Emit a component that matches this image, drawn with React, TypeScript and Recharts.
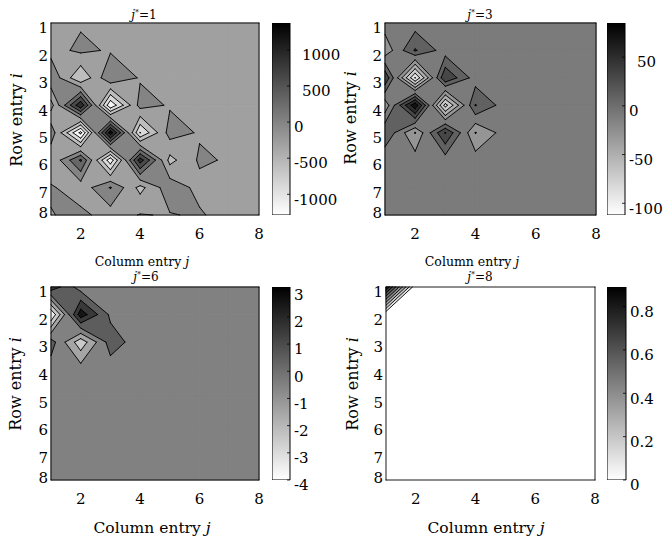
import React from 'react'
import { ScatterChart, Scatter, XAxis, YAxis, BarChart, Bar } from 'recharts'

// grid positions (column entry j along x, row entry i along y)
const xTicks = [2, 4, 6, 8]
const yTicks = [1, 2, 3, 4, 5, 6, 7, 8]

// j* = 1  (rows i = 1..8, columns j = 1..8)
const m1 = [
  [-30, -30, -30, -30, -30, -30, -30, -30],
  [-107, 60, -30, -30, -30, -30, -30, -30],
  [250, -590, 270, -30, -30, -30, -30, -30],
  [-420, 1150, -1150, 120, -30, -30, -30, -30],
  [200, -1287, 1372, -910, 130, -30, -30, -30],
  [-290, 640, -1100, 1050, -400, 45, -30, -30],
  [40, -190, 320, -400, 200, -100, -30, -30],
  [-15, 85, -150, 15, -20, 40, -150, -30],
]
const levels1 = [-1200, -900, -600, -300, 0, 300, 600, 900, 1200]
const range1 = [-1287, 1372]
const cbTicks1 = [-1000, -500, 0, 500, 1000]

// j* = 3
const m3 = [
  [0, 0, 0, 0, 0, 0, 0, 0],
  [-24, 32, 0, 0, 0, 0, 0, 0],
  [48, -91, 49, 0, 0, 0, 0, 0],
  [-24, 85, -78, 31, 0, 0, 0, 0],
  [29, -31, 51, -31, 0, 0, 0, 0],
  [-8, 0, 0, 0, 0, 0, 0, 0],
  [0, 0, 0, 0, 0, 0, 0, 0],
  [0, 0, 0, 0, 0, 0, 0, 0],
]
const levels3 = [-90, -70, -50, -30, -10, 10, 30, 50, 70]
const range3 = [-112, 85]
const cbTicks3 = [-100, -50, 0, 50]

// j* = 6
const m6 = [
  [2.2, 0, 0, 0, 0, 0, 0, 0],
  [-3.5, 3.1, 0.3, 0, 0, 0, 0, 0],
  [0.98, -2.17, 0.98, 0, 0, 0, 0, 0],
  [0, 0, 0, 0, 0, 0, 0, 0],
  [0, 0, 0, 0, 0, 0, 0, 0],
  [0, 0, 0, 0, 0, 0, 0, 0],
  [0, 0, 0, 0, 0, 0, 0, 0],
  [0, 0, 0, 0, 0, 0, 0, 0],
]
const levels6 = [-3.5, -2.5, -1.5, -0.5, 0.5, 1.5, 2.5]
const range6 = [-4, 3.1]
const cbTicks6 = [-4, -3, -2, -1, 0, 1, 2, 3]

// j* = 8
const m8 = [
  [0.89, 0, 0, 0, 0, 0, 0, 0],
  [0, 0, 0, 0, 0, 0, 0, 0],
  [0, 0, 0, 0, 0, 0, 0, 0],
  [0, 0, 0, 0, 0, 0, 0, 0],
  [0, 0, 0, 0, 0, 0, 0, 0],
  [0, 0, 0, 0, 0, 0, 0, 0],
  [0, 0, 0, 0, 0, 0, 0, 0],
  [0, 0, 0, 0, 0, 0, 0, 0],
]
const levels8 = [0, 0.1, 0.2, 0.3, 0.4, 0.5, 0.6, 0.7, 0.8]
const range8 = [0, 0.89]
const cbTicks8 = [0, 0.2, 0.4, 0.6, 0.8]

const FONT = 'DejaVu Serif'

type P = [number, number]
type C = { x: number; y: number; v: number }

const corners = (m: number[][], i: number, j: number): C[] => [
  { x: j + 1, y: i + 1, v: m[i][j] },
  { x: j + 2, y: i + 1, v: m[i][j + 1] },
  { x: j + 2, y: i + 2, v: m[i + 1][j + 1] },
  { x: j + 1, y: i + 2, v: m[i + 1][j] },
]

const cross = (a: C, b: C, L: number): P => {
  const t = (L - a.v) / (b.v - a.v)
  return [a.x + t * (b.x - a.x), a.y + t * (b.y - a.y)]
}

// saddle cells: bilinear value at the saddle point decides how corners join
const saddleValue = (c: C[]) => (c[0].v * c[2].v - c[1].v * c[3].v) / (c[0].v + c[2].v - c[1].v - c[3].v)

// region v >= L, cell by cell (marching squares)
function superPolys(m: number[][], L: number): P[][] {
  const out: P[][] = []
  for (let i = 0; i < 7; i++) {
    for (let j = 0; j < 7; j++) {
      const c = corners(m, i, j)
      const inn = c.map((p) => p.v >= L)
      const n = inn.filter(Boolean).length
      if (!n) continue
      if (n === 2 && inn[0] === inn[2] && saddleValue(c) < L) {
        for (let k = 0; k < 4; k++) {
          if (!inn[k]) continue
          out.push([cross(c[(k + 3) % 4], c[k], L), [c[k].x, c[k].y], cross(c[k], c[(k + 1) % 4], L)])
        }
        continue
      }
      const poly: P[] = []
      for (let k = 0; k < 4; k++) {
        const k2 = (k + 1) % 4
        if (inn[k]) poly.push([c[k].x, c[k].y])
        if (inn[k] !== inn[k2]) poly.push(cross(c[k], c[k2], L))
      }
      out.push(poly)
    }
  }
  return out
}

function isoSegs(m: number[][], L: number): [P, P][] {
  const out: [P, P][] = []
  for (let i = 0; i < 7; i++) {
    for (let j = 0; j < 7; j++) {
      const c = corners(m, i, j)
      const inn = c.map((p) => p.v >= L)
      const n = inn.filter(Boolean).length
      if (n === 0 || n === 4) continue
      if (n === 2 && inn[0] === inn[2]) {
        const cut = saddleValue(c) < L
        for (let k = 0; k < 4; k++) {
          if (inn[k] !== cut) continue
          out.push([cross(c[(k + 3) % 4], c[k], L), cross(c[k], c[(k + 1) % 4], L)])
        }
        continue
      }
      const pts: P[] = []
      for (let k = 0; k < 4; k++) {
        const k2 = (k + 1) % 4
        if (inn[k] !== inn[k2]) pts.push(cross(c[k], c[k2], L))
      }
      out.push([pts[0], pts[1]])
    }
  }
  return out
}

const shade = (v: number, lo: number, hi: number) => {
  const t = Math.min(1, Math.max(0, (v - lo) / (hi - lo)))
  const g = Math.round(255 * (1 - t))
  return `rgb(${g},${g},${g})`
}

type Panel = {
  m: number[][]
  levels: number[]
  range: number[]
  cbTicks: number[]
  jstar: string
  plot: number[] // left, top, right, bottom
  cb: number[] // left, right
  title: number[]
  xl: number[] // cx, cy, fontSize
  yl: number[] // cx, cy
  pad: number // shift of positive colorbar labels
}

const panels: Panel[] = [
  { m: m1, levels: levels1, range: range1, cbTicks: cbTicks1, jstar: '1', plot: [51, 23, 259, 215], cb: [272, 290], title: [144, 15], xl: [142, 262, 12.5], yl: [16, 120], pad: 8 },
  { m: m3, levels: levels3, range: range3, cbTicks: cbTicks3, jstar: '3', plot: [385, 23, 596, 215], cb: [607, 625], title: [480, 15], xl: [472, 262, 12.5], yl: [350, 118], pad: 8 },
  { m: m6, levels: levels6, range: range6, cbTicks: cbTicks6, jstar: '6', plot: [51, 287, 259, 480], cb: [272, 290], title: [146, 277], xl: [152, 528, 15.5], yl: [15, 384], pad: 0 },
  { m: m8, levels: levels8, range: range8, cbTicks: cbTicks8, jstar: '8', plot: [386, 287, 595, 480], cb: [607, 626], title: [480, 277], xl: [486, 528, 15.5], yl: [352, 384], pad: 0 },
]

const XTick = (props: any) => (
  <text x={props.x} y={props.y} dy="0.71em" textAnchor="middle" fontSize={15} fontFamily={FONT} fill="#000">
    {props.payload.value}
  </text>
)

const YTick = (props: any) => (
  <text x={props.x} y={props.y + (props.payload.value === 8 ? -2 : 5)} dy="0.35em" textAnchor="end" fontSize={15} fontFamily={FONT} fill="#000">
    {props.payload.value}
  </text>
)

const makeCbTick = (pad: number) => (props: any) => (
  <text
    x={props.x + (props.payload.value > 0 ? pad : 0)}
    y={props.y + 5}
    dy="0.35em"
    textAnchor="start"
    fontSize={15}
    fontFamily={FONT}
    fill="#000"
  >
    {props.payload.value}
  </text>
)

function ContourPanel({ p, idx }: { p: Panel; idx: number }) {
  const [pl, pt, pr, pb] = p.plot
  const [lo, hi] = p.range
  const left = pl - 51
  const top = pt - 23
  const width = pr - pl + 61
  const height = pb - pt + 83

  // painted from the lowest band upward
  const fills: { color: string; pts: P[] }[] = [
    { color: shade(lo, lo, hi), pts: [[1, 1], [8, 1], [8, 8], [1, 8]] },
  ]
  p.levels.forEach((L) => {
    superPolys(p.m, L).forEach((poly) => fills.push({ color: shade(L, lo, hi), pts: poly }))
  })
  const fillData = fills.flatMap((f) => f.pts.map(([x, y]) => ({ x, y })))

  const segs: [P, P][] = []
  p.levels.forEach((L) => segs.push(...isoSegs(p.m, L)))
  segs.push([[1, 1], [8, 1]], [[8, 1], [8, 8]], [[8, 8], [1, 8]], [[1, 8], [1, 1]])
  const segData = segs.flatMap(([a, b]) => [{ x: a[0], y: a[1] }, { x: b[0], y: b[1] }])

  const renderFills = (lp: any) => {
    const pts = lp.points as { x: number; y: number }[]
    let k = 0
    return (
      <g>
        {fills.map((f, n) => {
          const ps = pts.slice(k, k + f.pts.length)
          k += f.pts.length
          const d = ps.map((q, r) => `${r ? 'L' : 'M'}${q.x},${q.y}`).join('') + 'Z'
          return <path key={n} d={d} fill={f.color} stroke={f.color} strokeWidth={0.6} strokeLinejoin="round" />
        })}
      </g>
    )
  }

  const renderLines = (lp: any) => {
    const pts = lp.points as { x: number; y: number }[]
    let d = ''
    for (let r = 0; r + 1 < pts.length; r += 2) d += `M${pts[r].x},${pts[r].y}L${pts[r + 1].x},${pts[r + 1].y}`
    return <path d={d} fill="none" stroke="#000" strokeWidth={0.9} strokeLinecap="round" />
  }

  const xLabel = () => (
    <g fontFamily={FONT} fill="#000">
      <text x={p.xl[0] - left} y={p.xl[1] - top} dy="0.35em" textAnchor="middle" fontSize={p.xl[2]}>
        Column entry <tspan fontStyle="italic">j</tspan>
      </text>
      <text x={p.title[0] - left} y={p.title[1] - top} dy="0.35em" textAnchor="middle" fontSize={12}>
        <tspan fontStyle="italic">j</tspan>
        <tspan fontSize={8} dy={-4}>*</tspan>
        <tspan dy={4}>={p.jstar}</tspan>
      </text>
    </g>
  )

  const yLabel = () => {
    const cx = p.yl[0] - left
    const cy = p.yl[1] - top
    return (
      <text x={cx} y={cy} dy="0.35em" textAnchor="middle" fontSize={16} fontFamily={FONT} fill="#000" transform={`rotate(-90 ${cx} ${cy})`}>
        Row entry <tspan fontStyle="italic">i</tspan>
      </text>
    )
  }

  const cbW = p.cb[1] - p.cb[0]
  const gradId = `cbgrad${idx}`
  const cbData = [{ k: 'cb', v: [lo, hi] }]

  return (
    <>
      <div style={{ position: 'absolute', left, top }}>
        <ScatterChart width={width} height={height} margin={{ top: 23, right: 10, bottom: 10, left: 0 }}>
          <XAxis
            type="number"
            dataKey="x"
            domain={[1, 8]}
            ticks={xTicks}
            interval={0}
            height={50}
            axisLine={false}
            tickLine={false}
            tickSize={6}
            tickMargin={7}
            tick={XTick}
            label={xLabel}
          />
          <YAxis
            type="number"
            dataKey="y"
            domain={[1, 8]}
            reversed
            ticks={yTicks}
            interval={0}
            width={51}
            axisLine={false}
            tickLine={false}
            tickSize={0}
            tickMargin={3}
            tick={YTick}
            label={yLabel}
          />
          <Scatter data={fillData} isAnimationActive={false} shape={() => <g />} line={renderFills} />
          <Scatter data={segData} isAnimationActive={false} shape={() => <g />} line={renderLines} />
        </ScatterChart>
      </div>
      <div style={{ position: 'absolute', left: p.cb[0], top }}>
        <BarChart width={cbW + 60} height={pb - pt + 43} data={cbData} margin={{ top: 23, right: 5, bottom: 20, left: 0 }} barCategoryGap={0} barGap={0}>
          <defs>
            <linearGradient id={gradId} x1="0" y1="0" x2="0" y2="1">
              <stop offset="0%" stopColor="#000" />
              <stop offset="100%" stopColor="#fff" />
            </linearGradient>
          </defs>
          <XAxis dataKey="k" hide />
          <YAxis
            yAxisId="left"
            orientation="left"
            type="number"
            domain={[lo, hi]}
            allowDataOverflow
            ticks={p.cbTicks}
            interval={0}
            width={0}
            axisLine={false}
            tickLine={{ stroke: '#000', strokeWidth: 0.8 }}
            tickSize={-3}
            tick={false}
          />
          <YAxis
            orientation="right"
            type="number"
            domain={[lo, hi]}
            allowDataOverflow
            ticks={p.cbTicks}
            interval={0}
            width={55}
            axisLine={false}
            tickLine={{ stroke: '#000', strokeWidth: 0.8 }}
            tickSize={-3}
            tickMargin={7}
            tick={makeCbTick(p.pad)}
          />
          <Bar dataKey="v" fill={`url(#${gradId})`} stroke="#000" strokeWidth={1} isAnimationActive={false} />
        </BarChart>
      </div>
    </>
  )
}

export default function App() {
  return (
    <div style={{ position: 'absolute', left: 0, top: 0, width: 670, height: 542, background: '#fff' }}>
      {panels.map((p, i) => (
        <ContourPanel key={i} p={p} idx={i} />
      ))}
    </div>
  )
}
